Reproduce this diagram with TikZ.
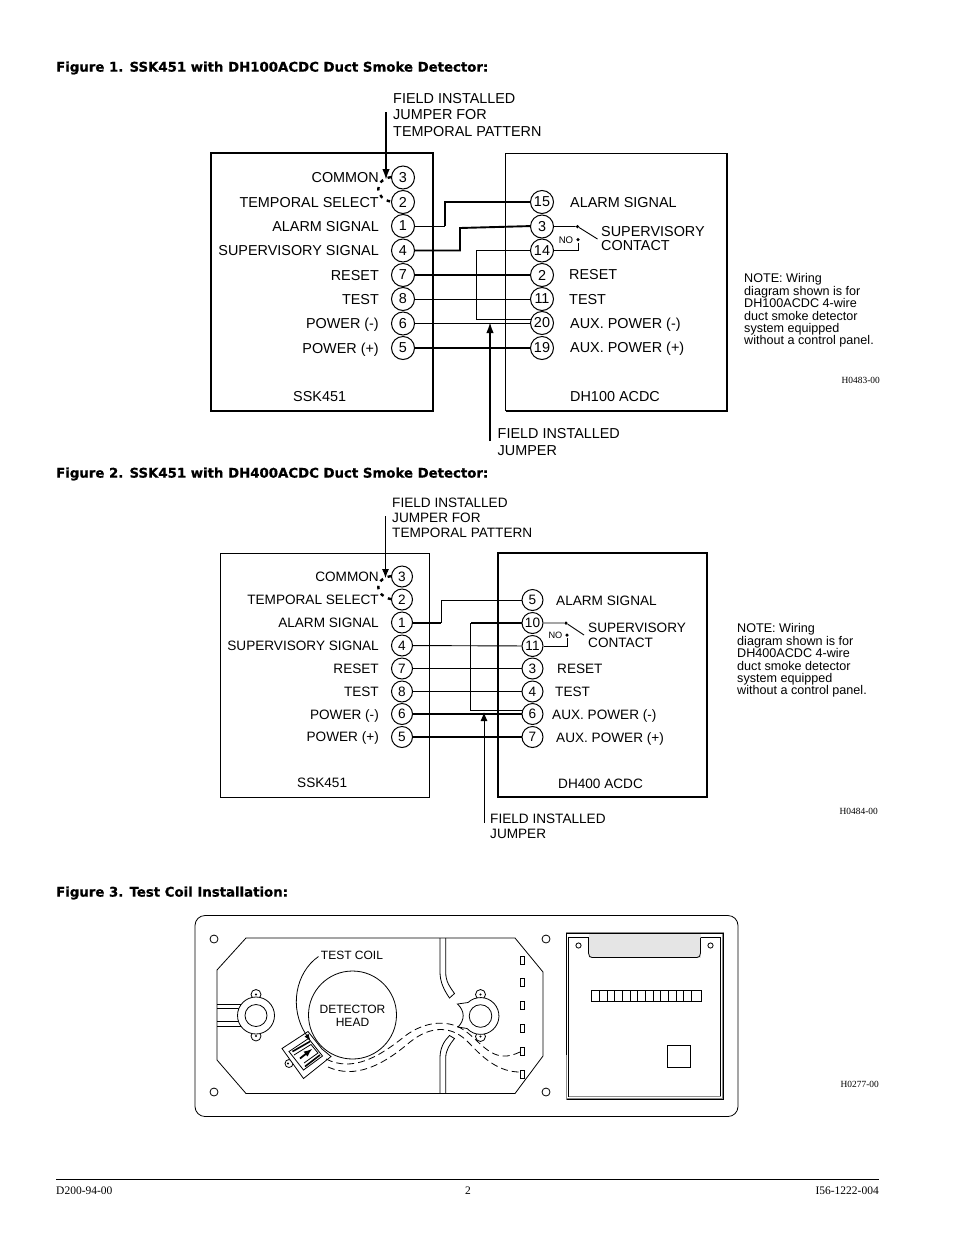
\documentclass[tikz,border=0pt]{standalone}
\usepackage{fontspec}
\setmainfont{Liberation Sans}
\newfontfamily\pagefont{Liberation Serif}
\newfontfamily\headfont{DejaVu Sans}[BoldFeatures={FakeBold=0.8}]
\usetikzlibrary{arrows.meta}
\definecolor{tabgray}{gray}{0.9}
\definecolor{edgegray}{gray}{0.55}
\tikzset{
	terma/.style={circle, draw, line width=1pt, fill=white, minimum size=23pt, inner sep=0pt, font=\fontsize{14.4}{16}\selectfont},
	termb/.style={circle, draw, line width=1pt, fill=white, minimum size=21pt, inner sep=0pt, font=\fontsize{13.6}{15}\selectfont},
	labela/.style={inner sep=0pt, align=left, font=\fontsize{14.4}{16.3}\selectfont},
	labelb/.style={inner sep=0pt, align=left, font=\fontsize{13.6}{15.2}\selectfont},
	note/.style={inner sep=0pt, anchor=north west, align=left, font=\fontsize{12.6}{12.4}\selectfont},
	figtitle/.style={inner sep=0pt, anchor=west, font=\headfont\bfseries\fontsize{13.3}{16}\selectfont},
	codetag/.style={inner sep=0pt, anchor=east, font=\pagefont\fontsize{9.4}{11}\selectfont},
	foot/.style={inner sep=0pt, font=\pagefont\fontsize{11.5}{13}\selectfont},
	thinwire/.style={line width=0.9pt},
	heavywire/.style={line width=1.9pt},
	part/.style={line width=0.8pt},
	wiredash/.style={line width=0.8pt, dash pattern=on 7pt off 4pt},
	jumper/.style={line width=2.4pt, dash pattern=on 3.5pt off 5pt},
	spot/.style={circle, fill=black, minimum size=3.5pt, inner sep=0pt},
}
\begin{document}
\begin{tikzpicture}[x=1pt, y=-1pt]
	\useasboundingbox (0, 0) rectangle (954, 1235);
	
	%%%%% FIGURE 1 %%%%%
	
	\node[figtitle] (title1) at (56, 68) {Figure 1. SSK451 with DH100ACDC Duct Smoke Detector:};
	
	\draw[line width=1.3pt] (211, 153) rectangle (433, 411);
	\draw[line width=0.9pt] (505.5, 411) -- (505.5, 153) -- (727, 153);
	\draw[line width=1.5pt] (727, 153) -- (727, 411) -- (505.5, 411);
	
	\node[terma] (sa3) at (403, 177.5) {3};
	\node[terma] (sa2) at (403, 202) {2};
	\node[terma] (sa1) at (403, 226) {1};
	\node[terma] (sa4) at (403, 250.5) {4};
	\node[terma] (sa7) at (403, 275) {7};
	\node[terma] (sa8) at (403, 299) {8};
	\node[terma] (sa6) at (403, 323.5) {6};
	\node[terma] (sa5) at (403, 348) {5};
	
	\node[terma] (da15) at (542, 202) {15};
	\node[terma] (da3) at (542, 226.5) {3};
	\node[terma] (da14) at (542, 250.5) {14};
	\node[terma] (da2) at (542, 275) {2};
	\node[terma] (da11) at (542, 299) {11};
	\node[terma] (da20) at (542, 323) {20};
	\node[terma] (da19) at (542, 348) {19};
	
	\node[labela, anchor=east] (common1) at (379, 178) {COMMON};
	\node[labela, anchor=east] (select1) at (379, 203) {TEMPORAL SELECT};
	\node[labela, anchor=east] (alarm1) at (379, 227) {ALARM SIGNAL};
	\node[labela, anchor=east] (super1) at (379, 251) {SUPERVISORY SIGNAL};
	\node[labela, anchor=east] (reset1) at (379, 276) {RESET};
	\node[labela, anchor=east] (test1) at (379, 300) {TEST};
	\node[labela, anchor=east] (minus1) at (379, 325) {POWER (-)};
	\node[labela, anchor=east] (plus1) at (379, 350) {POWER (+)};
	\node[labela, anchor=west] (ssk1) at (293, 397) {SSK451};
	
	\node[labela, anchor=west] (dalarm1) at (570, 203) {ALARM SIGNAL};
	\node[labela, anchor=west] (contact1) at (601, 238.5) {SUPERVISORY\\[-2.3pt]CONTACT};
	\node[labela, anchor=west] (dreset1) at (569, 275) {RESET};
	\node[labela, anchor=west] (dtest1) at (569, 300) {TEST};
	\node[labela, anchor=west] (dminus1) at (570, 325) {AUX. POWER (-)};
	\node[labela, anchor=west] (dplus1) at (570, 349) {AUX. POWER (+)};
	\node[labela, anchor=west] (dh1) at (570, 397) {DH100 ACDC};
	
	\node[labela, anchor=west] (tempnote1) at (393, 115) {FIELD INSTALLED\\JUMPER FOR\\TEMPORAL PATTERN};
	\node[labela, anchor=west] (fieldnote1) at (497.5, 442) {FIELD INSTALLED\\JUMPER};
	
	\coordinate (bend1a) at (445, 226);
	\coordinate (bend1b) at (445, 202);
	\coordinate (bend1c) at (460, 250.5);
	\coordinate (bend1d) at (460, 228);
	\coordinate (bend1e) at (476, 250.5);
	\coordinate (bend1f) at (476, 319.5);
	\coordinate (tap1) at (531.5, 319.5);
	
	\draw[thinwire] (sa1) -- (bend1a);
	\draw[heavywire] (bend1a) -- (bend1b) -- (da15);
	\draw[heavywire] (sa4) -- (bend1c) -- (bend1d) -- (da3.178);
	\draw[heavywire] (sa7) -- (da2);
	\draw[thinwire] (sa8) -- (da11);
	\draw[thinwire] (sa6) -- (da20.west |- sa6);
	\draw[heavywire] (sa5) -- (da19);
	\draw[thinwire] (da14) -- (bend1e) -- (bend1f) -- (tap1);
	
	\node[spot] (pivot1) at (577.5, 226.5) {};
	\node[spot] (nospot1) at (578, 239.5) {};
	\node[inner sep=0pt, font=\fontsize{9.6}{11}\selectfont] (no1) at (566, 240.5) {NO};
	\coordinate (blade1) at (597.5, 239);
	\coordinate (pin1) at (578, 250.5);
	\coordinate (pin1b) at (578, 243);
	\draw[thinwire] (da3) -- (pivot1) -- (blade1);
	\draw[thinwire] (da14) -- (pin1) -- (pin1b);
	
	\coordinate (arrow1a) at (386, 112);
	\coordinate (arrow1b) at (386, 180);
	\draw[heavywire, -{Latex[length=11pt, width=7.5pt]}] (arrow1a) -- (arrow1b);
	\draw[jumper] (sa3.178) .. controls (373, 180) and (375, 199) .. (sa2.178);
	
	\coordinate (arrow1c) at (490, 441);
	\coordinate (arrow1d) at (490, 322);
	\draw[heavywire, -{Latex[length=11pt, width=7.5pt]}] (arrow1c) -- (arrow1d);
	
	\node[note] (note1) at (744, 273.5) {NOTE: Wiring\\diagram shown is for\\DH100ACDC 4-wire\\duct smoke detector\\system equipped\\without a control panel.};
	\node[codetag] (code1) at (880, 380) {H0483-00};
	
	%%%%% FIGURE 2 %%%%%
	
	\node[figtitle] (title2) at (56, 474) {Figure 2. SSK451 with DH400ACDC Duct Smoke Detector:};
	
	\draw[line width=0.9pt] (220.5, 553) rectangle (429.5, 797);
	\draw[line width=1.3pt] (498, 553) rectangle (707, 797);
	
	\node[termb] (sb3) at (402, 576.5) {3};
	\node[termb] (sb2) at (402, 599.5) {2};
	\node[termb] (sb1) at (402, 622.5) {1};
	\node[termb] (sb4) at (402, 645.5) {4};
	\node[termb] (sb7) at (402, 668.5) {7};
	\node[termb] (sb8) at (402, 691.5) {8};
	\node[termb] (sb6) at (402, 714) {6};
	\node[termb] (sb5) at (402, 737) {5};
	
	\node[termb] (db5) at (532.5, 600) {5};
	\node[termb] (db10) at (532.5, 623) {10};
	\node[termb] (db11) at (532.5, 646) {11};
	\node[termb] (db3) at (532.5, 668.5) {3};
	\node[termb] (db4) at (532.5, 691.5) {4};
	\node[termb] (db6) at (532.5, 714) {6};
	\node[termb] (db7) at (532.5, 737) {7};
	
	\node[labelb, anchor=east] (common2) at (379, 577) {COMMON};
	\node[labelb, anchor=east] (select2) at (379, 600) {TEMPORAL SELECT};
	\node[labelb, anchor=east] (alarm2) at (379, 623) {ALARM SIGNAL};
	\node[labelb, anchor=east] (super2) at (379, 646) {SUPERVISORY SIGNAL};
	\node[labelb, anchor=east] (reset2) at (379, 669) {RESET};
	\node[labelb, anchor=east] (test2) at (379, 692) {TEST};
	\node[labelb, anchor=east] (minus2) at (379, 715.5) {POWER (-)};
	\node[labelb, anchor=east] (plus2) at (379, 738) {POWER (+)};
	\node[labelb, anchor=west] (ssk2) at (297, 783) {SSK451};
	
	\node[labelb, anchor=west] (dalarm2) at (556, 601) {ALARM SIGNAL};
	\node[labelb, anchor=west] (contact2) at (588, 635) {SUPERVISORY\\CONTACT};
	\node[labelb, anchor=west] (dreset2) at (557, 669) {RESET};
	\node[labelb, anchor=west] (dtest2) at (555, 692) {TEST};
	\node[labelb, anchor=west] (dminus2) at (552, 716) {AUX. POWER (-)};
	\node[labelb, anchor=west] (dplus2) at (556, 739) {AUX. POWER (+)};
	\node[labelb, anchor=west] (dh2) at (558, 784) {DH400 ACDC};
	
	\node[labelb, anchor=west] (tempnote2) at (392, 518) {FIELD INSTALLED\\JUMPER FOR\\TEMPORAL PATTERN};
	\node[labelb, anchor=west] (fieldnote2) at (490, 826) {FIELD INSTALLED\\JUMPER};
	
	\coordinate (bend2a) at (441, 623);
	\coordinate (bend2b) at (441, 600);
	\coordinate (bend2c) at (470.5, 623);
	\coordinate (bend2d) at (470.5, 710);
	\coordinate (tap2) at (522.5, 710);
	
	\draw[heavywire] (sb1.east |- bend2a) -- (bend2a);
	\draw[thinwire] (bend2a) -- (bend2b) -- (db5);
	\draw[thinwire] (sb4) -- (db11);
	\draw[thinwire] (sb7) -- (db3);
	\draw[heavywire] (sb8) -- (db4);
	\draw[heavywire] (sb6) -- (db6);
	\draw[heavywire] (sb5) -- (db7);
	\draw[heavywire] (db10) -- (bend2c);
	\draw[thinwire] (bend2c) -- (bend2d) -- (tap2);
	
	\node[spot] (pivot2) at (566, 623) {};
	\node[spot] (nospot2) at (567, 635) {};
	\node[inner sep=0pt, font=\fontsize{9.2}{11}\selectfont] (no2) at (555.5, 635.5) {NO};
	\coordinate (blade2) at (584, 635);
	\coordinate (pin2) at (567, 646);
	\coordinate (pin2b) at (567, 638);
	\draw[thinwire] (db10) -- (pivot2) -- (blade2);
	\draw[thinwire] (db11) -- (pin2) -- (pin2b);
	
	\coordinate (arrow2a) at (385.5, 516);
	\coordinate (arrow2b) at (385.5, 578);
	\draw[thinwire, -{Latex[length=9pt, width=7pt]}] (arrow2a) -- (arrow2b);
	\draw[jumper] (sb3.178) .. controls (373, 579) and (375, 596) .. (sb2.178);
	
	\coordinate (arrow2c) at (484, 823);
	\coordinate (arrow2d) at (484, 712);
	\draw[thinwire, -{Latex[length=9pt, width=7pt]}] (arrow2c) -- (arrow2d);
	
	\node[note] (note2) at (737, 623.5) {NOTE: Wiring\\diagram shown is for\\DH400ACDC 4-wire\\duct smoke detector\\system equipped\\without a control panel.};
	\node[codetag] (code2) at (878, 811) {H0484-00};
	
	%%%%% FIGURE 3 %%%%%
	
	\node[figtitle] (title3) at (56, 893) {Figure 3. Test Coil Installation:};
	
	\draw[part, rounded corners=10pt] (195, 915.5) rectangle (738, 1116.5);
	
	\draw[part] (214, 939) circle (4);
	\draw[part] (214, 1092) circle (4);
	\draw[part] (546, 939) circle (4);
	\draw[part] (546, 1092) circle (4);
	
	\draw[part] (246, 938) -- (515, 938) -- (543, 972) -- (543, 1056) -- (515, 1093.5) -- (246, 1093.5) -- (217, 1060) -- (217, 970) -- cycle;
	
	% channel
	\draw[part] (440, 938) -- (440, 972) .. controls (440, 982) and (444, 990) .. (449.5, 998) -- (454.5, 993.5) .. controls (450, 987) and (445.7, 982) .. (445.7, 972) -- (445.7, 938);
	\draw[part] (440, 1093.5) -- (440, 1058) .. controls (440, 1048) and (444, 1041) .. (449.5, 1035.5) -- (454.5, 1038.5) .. controls (450, 1044) and (445.7, 1050) .. (445.7, 1058) -- (445.7, 1093.5);
	
	% slots
	\draw[part] (520, 956) rectangle (524, 964);
	\draw[part] (520, 978.5) rectangle (524, 986.5);
	\draw[part] (520, 1001) rectangle (524, 1009);
	\draw[part] (520, 1024) rectangle (524, 1032);
	\draw[part] (520, 1047) rectangle (524, 1055);
	\draw[part] (520, 1070) rectangle (524, 1078);
	
	% left mount
	\draw[part] (217, 1004) -- (243, 1004);
	\draw[part] (217, 1008.5) -- (243, 1008.5);
	\draw[part] (217, 1021.5) -- (243, 1021.5);
	\draw[part] (217, 1026.5) -- (243, 1026.5);
	\draw[part, fill=white] (256, 994.5) circle (5);
	\draw[part, fill=white] (256, 1036) circle (5);
	\draw[part, fill=white] (256, 1015.5) circle (18.5);
	\draw[part] (256, 1015.5) circle (11);
	\fill (256, 994.5) circle (1.1);
	\fill (256, 1036) circle (1.1);
	
	% right mount
	\draw[part, fill=white] (480.5, 994.5) circle (5);
	\draw[part, fill=white] (480.5, 1036.5) circle (5);
	\draw[part, fill=white] (457.5, 1004) -- (468, 1002.5) arc (-133:137:18.4) -- (458, 1027) .. controls (465, 1020) and (465, 1011) .. cycle;
	\draw[part] (480.5, 1016) circle (11.3);
	\fill (480.5, 994.5) circle (1.1);
	\fill (480.5, 1036.5) circle (1.1);
	
	% head
	\draw[part] (352.5, 1015) circle (44);
	\node[inner sep=0pt, align=center, font=\fontsize{12}{12.6}\selectfont] (head) at (352.5, 1015.5) {DETECTOR\\HEAD};
	
	% coil
	\draw[part, fill=white] (289, 1063.5) circle (4);
	\fill (288, 1063.5) circle (1.1);
	\draw[part, fill=white] (282, 1048.5) -- (308, 1031.5) -- (322, 1049) -- (331, 1056.5) -- (303.5, 1078.5) -- cycle;
	\draw[part] (289, 1051.5) -- (308.5, 1038.5) -- (322.5, 1056) -- (303.5, 1070) -- cycle;
	\draw[line width=1.6pt] (292.5, 1051.5) -- (310, 1041.5);
	\draw[line width=1.6pt] (305, 1066.5) -- (320, 1055);
	\draw[part] (294, 1055) -- (311, 1044.5) -- (318, 1053) -- (304, 1063);
	\draw[line width=1.8pt, -latex] (300, 1058.5) -- (312, 1049);
	
	% wires
	\draw[wiredash] (326, 1059) .. controls (352, 1072) and (378, 1058) .. (405, 1036) .. controls (425, 1021) and (450, 1018) .. (468, 1033) .. controls (485, 1047) and (495, 1064) .. (520, 1052);
	\draw[wiredash] (328, 1067) .. controls (355, 1079) and (382, 1066) .. (410, 1042) .. controls (430, 1026) and (452, 1024) .. (470, 1044) .. controls (485, 1060) and (500, 1072) .. (520, 1072);
	
	\node[inner sep=0pt, font=\fontsize{12}{14}\selectfont] (coillabel) at (352, 955.5) {TEST COIL};
	\coordinate (coil1) at (318.5, 956.5);
	\coordinate (coil2) at (310.5, 1041);
	\draw[part, -{Latex[length=7pt, width=5pt]}] (coil1) .. controls (296, 972) and (288, 1008) .. (coil2);
	
	% panel
	\fill[tabgray] (588.5, 933) rectangle (700.5, 957.5);
	\draw[line width=1.2pt, edgegray] (566.5, 933) rectangle (723, 1099);
	\draw[part] (566.5, 1099) -- (723, 1099) -- (723, 933) -- (566.5, 933) -- (566.5, 1055);
	\draw[part, fill=tabgray] (588.5, 937.5) -- (588.5, 953) .. controls (588.5, 956) and (590, 957.5) .. (592, 957.5) -- (697, 957.5) .. controls (699, 957.5) and (700.5, 956) .. (700.5, 953) -- (700.5, 937.5);
	\draw[part] (588.5, 937.5) -- (568.5, 937.5) -- (568.5, 1096.5) -- (720.5, 1096.5) -- (720.5, 937.5) -- (700.5, 937.5);
	\draw[line width=1.2pt, edgegray] (568.5, 1096.5) -- (720.5, 1096.5);
	\draw[part] (578.5, 945.5) circle (2.6);
	\draw[part] (710.5, 945.5) circle (2.6);
	\draw[part] (591.5, 990.5) rectangle (701, 1001.5);
	\draw[part] (599, 990.5) -- (599, 1001.5);
	\draw[part] (607, 990.5) -- (607, 1001.5);
	\draw[part] (614.5, 990.5) -- (614.5, 1001.5);
	\draw[part] (622, 990.5) -- (622, 1001.5);
	\draw[part] (630, 990.5) -- (630, 1001.5);
	\draw[part] (637.5, 990.5) -- (637.5, 1001.5);
	\draw[part] (645, 990.5) -- (645, 1001.5);
	\draw[part] (653, 990.5) -- (653, 1001.5);
	\draw[part] (660.5, 990.5) -- (660.5, 1001.5);
	\draw[part] (668, 990.5) -- (668, 1001.5);
	\draw[part] (676, 990.5) -- (676, 1001.5);
	\draw[part] (683.5, 990.5) -- (683.5, 1001.5);
	\draw[part] (691, 990.5) -- (691, 1001.5);
	\draw[part] (667.5, 1045.5) rectangle (690.5, 1067.5);
	
	\node[codetag] (code3) at (879, 1084) {H0277-00};
	
	%%%%% FOOTER %%%%%
	
	\draw[line width=0.8pt] (56, 1179) -- (879, 1179);
	\node[foot, anchor=west] (footl) at (56, 1190.5) {D200-94-00};
	\node[foot] (footc) at (468, 1190.5) {2};
	\node[foot, anchor=east] (footr) at (879, 1190.5) {I56-1222-004};
\end{tikzpicture}
\end{document}
